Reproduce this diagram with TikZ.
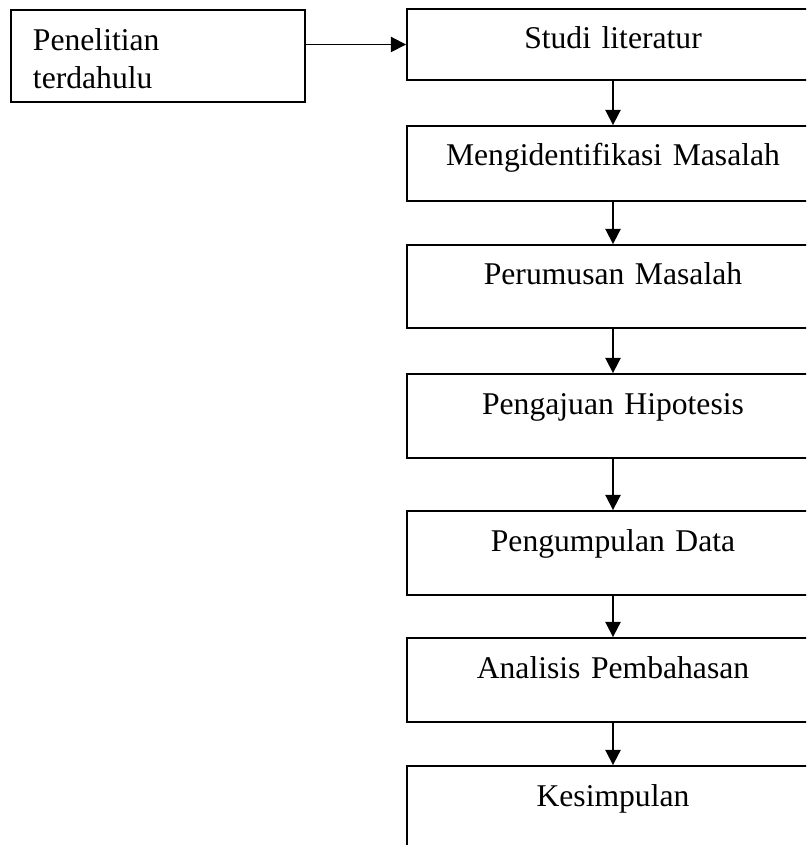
\documentclass[tikz,border=0pt]{standalone}
\usepackage{fontspec}
\setmainfont{Liberation Serif}
\usetikzlibrary{arrows.meta}
\begin{document}
\begin{tikzpicture}[
  x=0.025cm, y=-0.025cm,
  font=\fontsize{22.5}{26.5}\selectfont,
  >={Triangle[length=0.38cm, width=0.38cm]},
  stepbox/.style={draw, line width=1.3pt, rectangle, align=center, text width=10.3cm,
    inner xsep=0pt, inner ysep=0pt, text height=1.0cm, anchor=base},
  srcbox/.style={draw, line width=1.3pt, rectangle, align=left, text width=6.25cm,
    inner xsep=0.55cm, inner ysep=0pt, text height=1.025cm, text depth=1.275cm, anchor=base}
]
\useasboundingbox (0,0) rectangle (806,845);
\clip (0,0) rectangle (806,845);
\node[srcbox] (prev) at (158,51) {Penelitian\\terdahulu};
\node[stepbox, text depth=0.775cm] (lit) at (613,49) {Studi literatur};
\node[stepbox, text depth=0.875cm] (ident) at (613,166) {Mengidentifikasi Masalah};
\node[stepbox, text depth=1.075cm] (rumus) at (613,285) {Perumusan Masalah};
\node[stepbox, text depth=1.1cm] (hipo) at (613,414) {Pengajuan Hipotesis};
\node[stepbox, text depth=1.1cm] (data) at (613,551) {Pengumpulan Data};
\node[stepbox, text depth=1.1cm] (bahas) at (613,678) {Analisis Pembahasan};
\node[stepbox, text depth=1.6cm] (simpul) at (613,806) {Kesimpulan};
\draw[->, line width=1.3pt] (prev.east |- lit.west) -- (lit.west);
\draw[->, line width=1.3pt] (lit) -- (ident);
\draw[->, line width=1.3pt] (ident) -- (rumus);
\draw[->, line width=1.3pt] (rumus) -- (hipo);
\draw[->, line width=1.3pt] (hipo) -- (data);
\draw[->, line width=1.3pt] (data) -- (bahas);
\draw[->, line width=1.3pt] (bahas) -- (simpul);
\end{tikzpicture}
\end{document}
